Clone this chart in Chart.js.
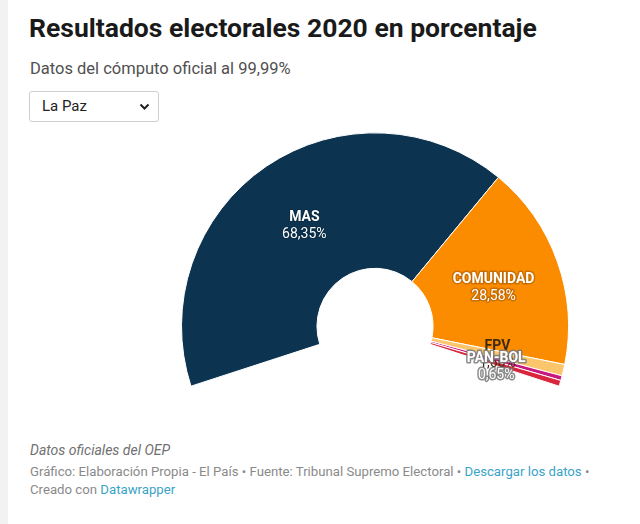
<!DOCTYPE html>
<html><head><meta charset="utf-8">
<script src="https://cdn.jsdelivr.net/npm/chart.js@4/dist/chart.umd.min.js"></script>
<style>
html,body{margin:0;padding:0;background:#fff;width:640px;height:524px;overflow:hidden;font-family:Roboto,"Liberation Sans",sans-serif;}
#strip{position:absolute;left:0;top:0;width:8px;height:524px;background:#f2f2f2;}
#title{position:absolute;left:29px;top:12px;font-size:26.5px;font-weight:700;color:#1a1a1a;white-space:nowrap;}
#sub{position:absolute;left:30px;top:59px;font-size:16.5px;color:#505050;white-space:nowrap;}
#sel{position:absolute;left:29px;top:91px;width:130px;height:31px;border:1px solid #cfcfcf;border-radius:3px;box-sizing:border-box;}
#sel span{position:absolute;left:12px;top:5px;font-size:15px;color:#222;}
#sel svg{position:absolute;right:8px;top:11px;}
#chart{position:absolute;left:181px;top:132px;}
#f1{position:absolute;left:30px;top:442px;font-size:14px;font-style:italic;color:#707070;white-space:nowrap;}
#f2,#f3{position:absolute;left:30px;font-size:13.2px;color:#8a8a8a;white-space:nowrap;}
#f2{top:464px}#f3{top:482px}
a{color:#3aa3c7;text-decoration:none}
</style></head>
<body>
<div id="strip"></div>
<div id="title">Resultados electorales 2020 en porcentaje</div>
<div id="sub">Datos del cómputo oficial al 99,99%</div>
<div id="sel"><span>La Paz</span><svg width="11" height="8" viewBox="0 0 11 8"><path d="M1.5 1.5 L5.5 5.5 L9.5 1.5" fill="none" stroke="#222" stroke-width="2"/></svg></div>
<canvas id="chart" width="388" height="255"></canvas>
<div id="f1">Datos oficiales del OEP</div>
<div id="f2">Gráfico: Elaboración Propia - El País • Fuente: Tribunal Supremo Electoral • <a>Descargar los datos</a> •</div>
<div id="f3">Creado con <a>Datawrapper</a></div>
<script>
const parties = ["MAS", "COMUNIDAD", "FPV", "PAN-BOL", "CREEMOS"];
const percentages = [68.35, 28.58, 1.60, 0.65, 0.82];
const sliceColors = ["#0c334f", "#fb8c00", "#fbc66b", "#c8177e", "#d7263d"];

const labelStyles = [
  { color: '#ffffff', halo: 'rgba(10,40,60,0.6)', haloW: 2 },
  { color: '#ffffff', halo: 'rgba(170,90,0,0.55)', haloW: 3 },
  { color: '#3b2a10', dy: -4 },
  { color: '#ffffff', halo: 'rgba(120,120,120,0.85)', haloW: 3, dy: 3 },
  null
];

const labelPlugin = {
  id: 'sliceLabels',
  afterDatasetsDraw(chart) {
    const ctx = chart.ctx;
    const meta = chart.getDatasetMeta(0);
    const ds = chart.data.datasets[0];
    meta.data.forEach((arc, i) => {
      const st = labelStyles[i];
      if (!st) return;
      const p = arc.getCenterPoint();
      const x = p.x, y = p.y + (st.dy || 0);
      const val = ds.data[i].toFixed(2).replace('.', ',') + '%';
      ctx.save();
      ctx.textAlign = 'center';
      ctx.textBaseline = 'middle';
      ctx.lineJoin = 'round';
      const draw = (txt, font, yy) => {
        ctx.font = font;
        if (st.halo) {
          ctx.strokeStyle = st.halo;
          ctx.lineWidth = st.haloW || 3;
          ctx.strokeText(txt, x, yy);
        }
        ctx.fillStyle = st.color;
        ctx.fillText(txt, x, yy);
      };
      draw(chart.data.labels[i], 'bold 14px Roboto', y - 4.5);
      draw(val, '14px Roboto', y + 12.5);
      ctx.restore();
    });
  }
};

new Chart(document.getElementById('chart'), {
  type: 'doughnut',
  data: {
    labels: parties,
    datasets: [{
      data: percentages,
      backgroundColor: sliceColors,
      borderColor: '#ffffff',
      borderWidth: 1
    }]
  },
  options: {
    responsive: false,
    animation: false,
    rotation: -108,
    circumference: 216,
    cutout: '30%',
    layout: { padding: 0 },
    plugins: {
      legend: { display: false },
      tooltip: { enabled: false }
    }
  },
  plugins: [labelPlugin]
});
</script>
</body></html>
